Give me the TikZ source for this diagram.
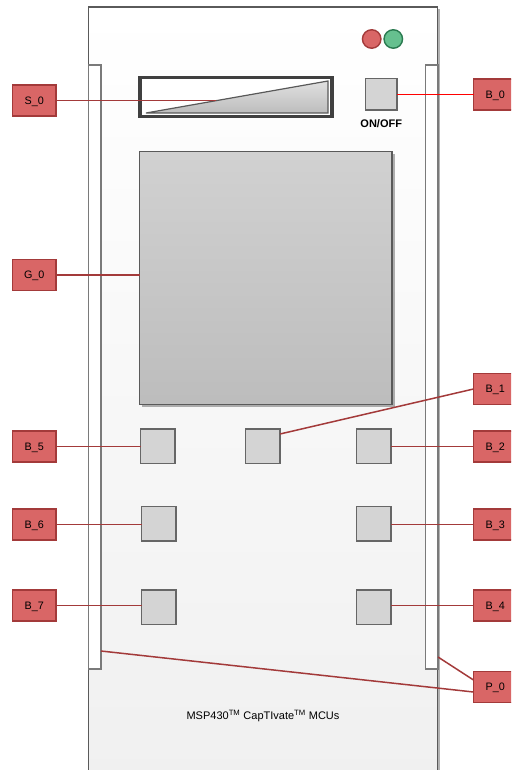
\documentclass[tikz,border=0pt]{standalone}
\usepackage{fontspec}
\setmainfont{Liberation Sans}
\usetikzlibrary{shadows}
\definecolor{tagfill}{HTML}{D96666}
\definecolor{tagline}{HTML}{A33A3A}
\definecolor{ledgreen}{HTML}{66C08F}
\definecolor{ledline}{HTML}{2A7A50}
\definecolor{edge}{HTML}{5A5A5A}
\begin{document}
\begin{tikzpicture}[x=1pt, y=-1pt, node distance=29.5pt]
\tikzstyle{tag}    = [rectangle, minimum width=43.5pt, minimum height=31pt, outer sep=0pt, inner sep=0pt, text height=8pt, text depth=0.5pt, fill=tagfill, draw=tagline, line width=1.3pt, font=\fontsize{10.8}{13}\selectfont]
\tikzstyle{pad}    = [rectangle, minimum width=34.5pt, minimum height=34.5pt, outer sep=0pt, fill=black!17, draw=black!60, line width=1.5pt]
\tikzstyle{slot}   = [rectangle, minimum width=12.5pt, minimum height=604pt, outer sep=0pt, fill=white, draw=black!52, line width=1.1pt]
\tikzstyle{led}    = [circle, minimum size=18.5pt, inner sep=0pt, outer sep=0pt, line width=1.4pt]
\tikzstyle{shade}  = [drop shadow={shadow xshift=2.5pt, shadow yshift=-2.5pt, opacity=0.3, fill=black}]
\tikzstyle{link}   = [tagline, line width=1.5pt]

\clip (0,0) rectangle (511,770);

\node (panel)  [rectangle, minimum width=349pt, minimum height=793pt, outer sep=0pt, top color=white, bottom color=black!6, draw=edge, line width=1.5pt, shade] at (263,403.5) {};
\node (slot_l) [slot] at (94.75,367)  {};
\node (slot_r) [slot] at (431.75,367) {};

\node (led_r)  [led, fill=tagfill, draw=tagline]   at (371.7,39) {};
\node (led_g)  [led, fill=ledgreen, draw=ledline]  at (393.3,39) {};

\node (slider) [rectangle, minimum width=192pt, minimum height=39pt, outer sep=0pt, fill=white, draw=black!75, line width=3.2pt] at (236,97) {};
\draw [top color=black!12, bottom color=black!26, draw=black!65, line width=1.2pt] (146,113) -- (328,81) -- (328,113) -- cycle;

\node (screen) [rectangle, minimum width=252.5pt, minimum height=252.5pt, outer sep=0pt, top color=black!18, bottom color=black!26, draw=edge, line width=1.4pt, shade] at (265.75,278) {};

\node (pad_0)  [pad, minimum width=31.5pt, minimum height=31.5pt] at (381.25,94.5) {};
\node (onoff)  [below of=pad_0, font=\bfseries\fontsize{11}{13}\selectfont] {ON/OFF};

\node (pad_5)  [pad] at (157.75,446)  {};
\node (pad_1)  [pad] at (262.75,446)  {};
\node (pad_2)  [pad] at (373.75,446)  {};
\node (pad_6)  [pad] at (158.75,523.5) {};
\node (pad_3)  [pad] at (373.5,523.5) {};
\node (pad_7)  [pad] at (158.75,607) {};
\node (pad_4)  [pad] at (373.5,607) {};

\node (mcu) [font=\fontsize{11}{13}\selectfont] at (263,715.5) {MSP430\textsuperscript{TM} CapTIvate\textsuperscript{TM} MCUs};

\node (tag_s0) [tag] at (34.25,100.5) {S\_0};
\node (tag_g0) [tag] at (34.25,275)   {G\_0};
\node (tag_b5) [tag] at (34.25,446.5) {B\_5};
\node (tag_b6) [tag] at (34.25,524.5) {B\_6};
\node (tag_b7) [tag] at (34.25,605.5) {B\_7};
\node (tag_b0) [tag] at (495.25,94.5)  {B\_0};
\node (tag_b1) [tag] at (495.25,389)   {B\_1};
\node (tag_b2) [tag] at (495.25,446.5) {B\_2};
\node (tag_b3) [tag] at (495.25,524.5) {B\_3};
\node (tag_b4) [tag] at (495.25,605.5) {B\_4};
\node (tag_p0) [tag] at (495.25,687)   {P\_0};

\coordinate (ramp_end)  at (216,100.5);
\coordinate (pad_1_top) at (280,434);
\coordinate (slot_l_p)  at (101,651);
\coordinate (slot_r_p)  at (438,657);

\draw [link] (tag_s0) -- (ramp_end);
\draw [link] (tag_g0) -- (tag_g0 -| screen.west);
\draw [link] (tag_b5) -- (tag_b5 -| pad_5.west);
\draw [link] (tag_b6) -- (tag_b6 -| pad_6.west);
\draw [link] (tag_b7) -- (tag_b7 -| pad_7.west);
\draw [red, line width=1.5pt] (tag_b0) -- (pad_0);
\draw [link] (tag_b1.west) -- (pad_1_top);
\draw [link] (tag_b2) -- (tag_b2 -| pad_2.east);
\draw [link] (tag_b3) -- (tag_b3 -| pad_3.east);
\draw [link] (tag_b4) -- (tag_b4 -| pad_4.east);
\draw [link] ([yshift=-5pt]tag_p0.west) -- (slot_l_p);
\draw [link] ([yshift=7pt]tag_p0.west) -- (slot_r_p);
\end{tikzpicture}
\end{document}
